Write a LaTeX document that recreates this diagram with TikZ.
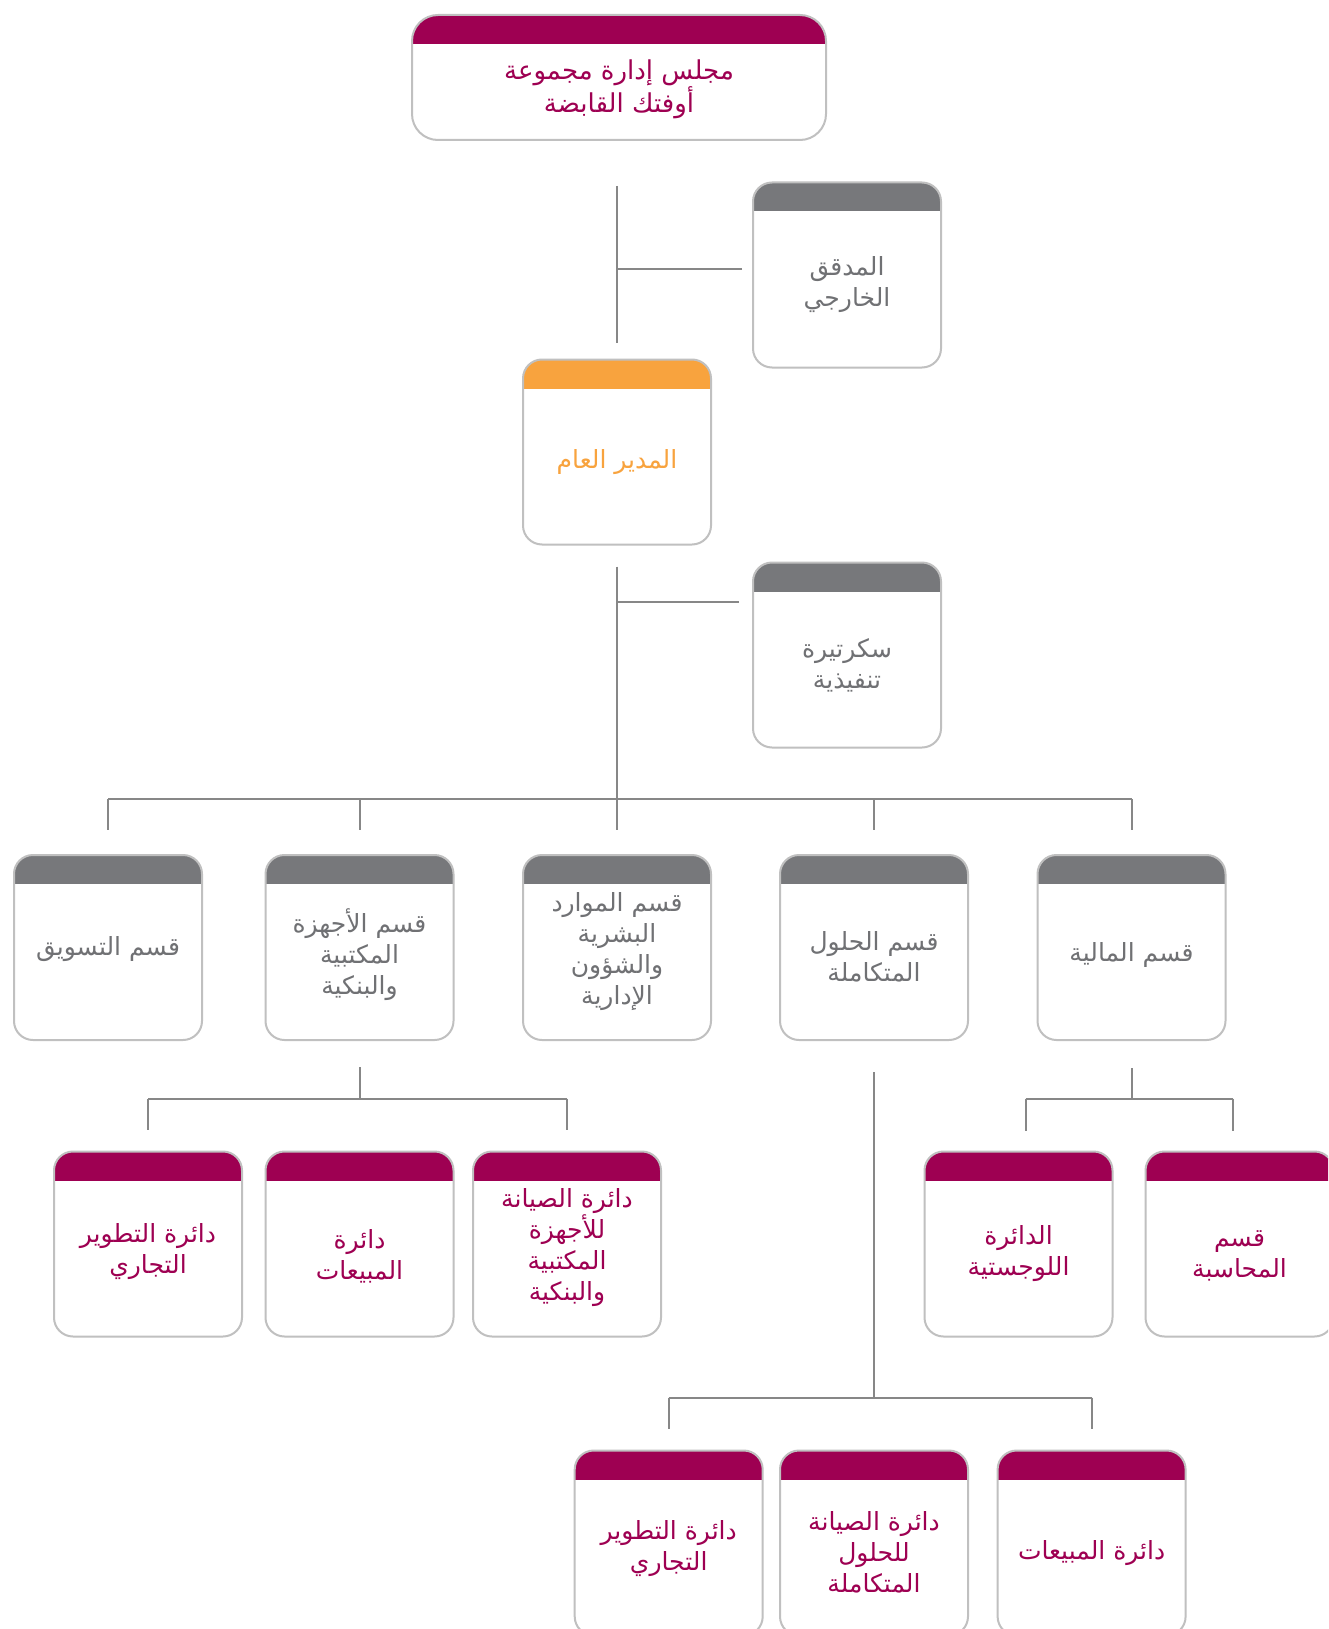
\documentclass[tikz,border=0pt]{standalone}
\usepackage{fontspec}
\newfontfamily\arabicfont[Script=Arabic]{DejaVu Sans}
\TeXXeTstate=1
\definecolor{boardred}{RGB}{158,0,82}
\definecolor{deptgray}{RGB}{119,120,123}
\definecolor{chieforange}{RGB}{248,163,62}
\definecolor{textgray}{RGB}{112,113,116}
\definecolor{boxline}{RGB}{192,192,192}
\definecolor{linkgray}{RGB}{135,135,135}
\tikzset{
  unit/.style={
    draw=boxline,
    line width=2pt,
    rounded corners=19pt,
    fill=white,
    minimum width=188pt,
    minimum height=185pt,
    path picture={\fill[#1, sharp corners] (path picture bounding box.north west)
      rectangle ([yshift=-29pt]path picture bounding box.north east);},
  },
  unit text/.style={
    text=#1,
    align=center,
    font=\arabicfont\fontsize{25}{31}\selectfont,
  },
  link/.style={
    draw=linkgray,
    line width=2pt,
  }
}

\begin{document}
\begin{tikzpicture}[x=1pt, y=-1pt]
        \path[fill=white, use as bounding box] (0,0) rectangle (1328,1629);
        \clip (0,0) rectangle (1328,1629);

        \node [unit=boardred, minimum width=414pt, minimum height=125pt, rounded corners=26pt] (board) at (619,77.5) {};
        \node [unit=deptgray] (audit) at (847,275) {};
        \node [unit=chieforange] (gm) at (617,452) {};
        \node [unit=deptgray] (sec) at (847,655) {};

        \node [unit=deptgray] (mkt) at (108,947.5) {};
        \node [unit=deptgray] (ofc) at (359.5,947.5) {};
        \node [unit=deptgray] (hr) at (617,947.5) {};
        \node [unit=deptgray] (sol) at (874,947.5) {};
        \node [unit=deptgray] (fin) at (1131.5,947.5) {};

        \node [unit=boardred] (ofc-dev) at (148,1244) {};
        \node [unit=boardred] (ofc-sales) at (359.5,1244) {};
        \node [unit=boardred] (ofc-maint) at (567,1244) {};
        \node [unit=boardred] (logi) at (1018.5,1244) {};
        \node [unit=boardred] (acct) at (1239.5,1244) {};

        \node [unit=boardred] (sol-dev) at (668.7,1543) {};
        \node [unit=boardred] (sol-maint) at (874,1543) {};
        \node [unit=boardred] (sol-sales) at (1091.6,1543) {};

        \node [unit text=boardred, font=\arabicfont\fontsize{26}{31}\selectfont] (board-t) at ([yshift=-12pt]board.center) {\beginR مجلس إدارة مجموعة\endR\\\beginR أوفتك القابضة\endR};
        \node [unit text=textgray] (audit-t) at ([yshift=-10pt]audit.center) {\beginR المدقق\endR\\\beginR الخارجي\endR};
        \node [unit text=chieforange] (gm-t) at ([yshift=-10pt]gm.center) {\beginR المدير العام\endR};
        \node [unit text=textgray] (sec-t) at ([yshift=-10pt]sec.center) {\beginR سكرتيرة\endR\\\beginR تنفيذية\endR};

        \node [unit text=textgray] (mkt-t) at ([yshift=-2pt]mkt.center) {\beginR قسم التسويق\endR};
        \node [unit text=textgray] (ofc-t) at ([yshift=-7pt]ofc.center) {\beginR قسم الأجهزة\endR\\\beginR المكتبية\endR\\\beginR والبنكية\endR};
        \node [unit text=textgray] (hr-t) at ([yshift=-4pt]hr.center) {\beginR قسم الموارد\endR\\\beginR البشرية\endR\\\beginR والشؤون\endR\\\beginR الإدارية\endR};
        \node [unit text=textgray] (sol-t) at ([yshift=-9pt]sol.center) {\beginR قسم الحلول\endR\\\beginR المتكاملة\endR};
        \node [unit text=textgray] (fin-t) at ([yshift=-7pt]fin.center) {\beginR قسم المالية\endR};

        \node [unit text=boardred] (ofc-dev-t) at ([yshift=-8pt]ofc-dev.center) {\beginR دائرة التطوير\endR\\\beginR التجاري\endR};
        \node [unit text=boardred] (ofc-sales-t) at ([yshift=-12pt]ofc-sales.center) {\beginR دائرة\endR\\\beginR المبيعات\endR};
        \node [unit text=boardred] (ofc-maint-t) at ([yshift=-4pt]ofc-maint.center) {\beginR دائرة الصيانة\endR\\\beginR للأجهزة\endR\\\beginR المكتبية\endR\\\beginR والبنكية\endR};
        \node [unit text=boardred] (logi-t) at ([yshift=-10pt]logi.center) {\beginR الدائرة\endR\\\beginR اللوجستية\endR};
        \node [unit text=boardred] (acct-t) at ([yshift=-12pt]acct.center) {\beginR قسم\endR\\\beginR المحاسبة\endR};

        \node [unit text=boardred] (sol-dev-t) at ([yshift=-6pt]sol-dev.center) {\beginR دائرة التطوير\endR\\\beginR التجاري\endR};
        \node [unit text=boardred] (sol-maint-t) at ([yshift=-9pt]sol-maint.center) {\beginR دائرة الصيانة\endR\\\beginR للحلول\endR\\\beginR المتكاملة\endR};
        \node [unit text=boardred] (sol-sales-t) at ([yshift=-10pt]sol-sales.center) {\beginR دائرة المبيعات\endR};

        \draw [link] (gm.north |- board.south) ++(0,45) -- ([yshift=16pt]gm.north);
        \draw [link] ([xshift=-10pt,yshift=6pt]audit.west) coordinate (audit-j) -- (audit-j -| gm.north);
        \draw [link] ([xshift=-13pt,yshift=53pt]sec.west) coordinate (sec-j) -- (sec-j -| gm.north);
        \draw [link] (gm.south) ++(0,21) -- ([yshift=24pt]hr.north);
        \draw [link] ([yshift=55pt]mkt.north) -- ([yshift=55pt]fin.north);
        \foreach \d in {mkt,ofc,sol,fin}
          \draw [link] ([yshift=55pt]\d.north) -- ([yshift=24pt]\d.north);

        \draw [link] ([yshift=-26pt]ofc.south) -- ([yshift=52pt]ofc-sales.north);
        \draw [link] ([yshift=52pt]ofc-dev.north) -- ([yshift=52pt]ofc-maint.north);
        \foreach \d in {ofc-dev,ofc-maint}
          \draw [link] ([yshift=52pt]\d.north) -- ([yshift=21pt]\d.north);

        \draw [link] ([yshift=-27pt]fin.south) -- ([yshift=-59pt]fin.south);
        \draw [link] ([xshift=7pt,yshift=52pt]logi.north) -- ([xshift=-7pt,yshift=52pt]acct.north);
        \draw [link] ([xshift=7pt,yshift=52pt]logi.north) -- ([xshift=7pt,yshift=20pt]logi.north);
        \draw [link] ([xshift=-7pt,yshift=52pt]acct.north) -- ([xshift=-7pt,yshift=20pt]acct.north);

        \draw [link] ([yshift=-31pt]sol.south) -- ([yshift=52pt]sol-maint.north);
        \draw [link] ([yshift=52pt]sol-dev.north) -- ([yshift=52pt]sol-sales.north);
        \foreach \d in {sol-dev,sol-sales}
          \draw [link] ([yshift=52pt]\d.north) -- ([yshift=21pt]\d.north);
      \end{tikzpicture}
\end{document}
